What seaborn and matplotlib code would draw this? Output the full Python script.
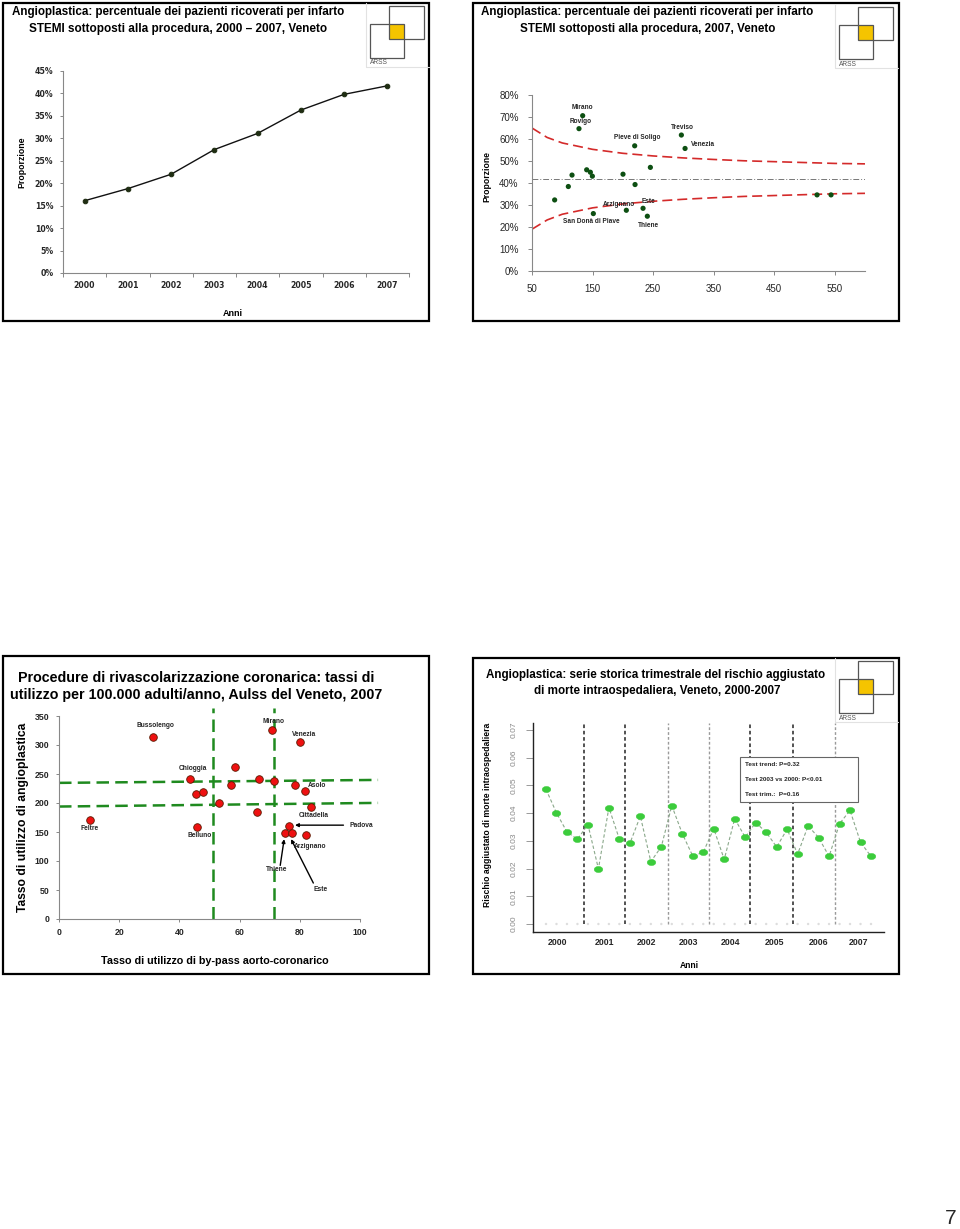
import matplotlib
matplotlib.use("Agg")
import numpy as np
import pandas as pd
import matplotlib.pyplot as plt
import seaborn as sns
from matplotlib.patches import Rectangle
from matplotlib.path import Path
from matplotlib.lines import Line2D
from matplotlib.ticker import FuncFormatter
from matplotlib import font_manager

sns.set_theme(style="ticks")
plt.rcParams['font.family'] = ['Liberation Sans', 'DejaVu Sans']
plt.rcParams['figure.facecolor'] = 'white'

# ------------------------------------------------------------------ data
years = [2000, 2001, 2002, 2003, 2004, 2005, 2006, 2007]
ptca_share = [0.161, 0.188, 0.220, 0.275, 0.311, 0.363, 0.398, 0.417]

hosp_n = [133.7, 127.6, 219.6, 296.7, 302.8, 245.5, 200.3, 220.2, 140.3, 146.4,
          149.7, 116.1, 110.0, 87.4, 151.3, 205.8, 233.4, 240.5, 520.8, 543.9]
hosp_prop = [0.706, 0.647, 0.569, 0.618, 0.557, 0.471, 0.440, 0.393, 0.460, 0.449,
             0.431, 0.436, 0.384, 0.323, 0.261, 0.276, 0.285, 0.249, 0.346, 0.346]
hosp_name = ["Mirano", "Rovigo", "Pieve di Soligo", "Treviso", "Venezia", "", "", "", "", "",
             "", "", "", "", "San Donà di Piave", "Arzignano", "Este", "Thiene", "", ""]
funnel_n = [50, 75, 100, 150, 200, 250, 300, 350, 400, 450, 500, 550, 600]
funnel_upper = [0.650, 0.607, 0.582, 0.553, 0.535, 0.523, 0.514, 0.507, 0.501, 0.497, 0.493, 0.489, 0.487]
funnel_lower = [0.190, 0.232, 0.258, 0.287, 0.305, 0.317, 0.326, 0.333, 0.339, 0.343, 0.347, 0.351, 0.353]
regional_mean = 0.42

ulss_cabg = [10.4, 31.3, 43.4, 45.6, 47.7, 46.0, 53.0, 57.2, 58.4, 65.9, 66.6,
             70.8, 71.3, 80.0, 78.4, 81.6, 83.6, 76.4, 75.1, 77.4, 81.9]
ulss_ptca = [171.5, 313.8, 241.0, 215.0, 218.6, 158.3, 199.7, 230.6, 261.6, 185.3, 242.1,
             325.3, 238.1, 305.8, 231.2, 220.9, 193.9, 160.6, 148.0, 148.6, 144.0]
ulss_name = ["Feltre", "Bussolengo", "Chioggia", "", "", "Belluno", "", "", "", "", "",
             "Mirano", "", "Venezia", "", "Asolo", "Cittadella", "Padova", "Thiene", "Este", "Arzignano"]
ref_cabg = [51.1, 71.3]
ref_ptca_low = [193.9, 200.2]
ref_ptca_high = [234.7, 239.8]

quarter_risk = [0.0486, 0.0401, 0.0332, 0.0306,
                0.0359, 0.0199, 0.0420, 0.0306,
                0.0291, 0.0389, 0.0225, 0.0279,
                0.0427, 0.0326, 0.0245, 0.0259,
                0.0344, 0.0233, 0.0380, 0.0313,
                0.0366, 0.0331, 0.0278, 0.0342,
                0.0252, 0.0354, 0.0312, 0.0244,
                0.0362, 0.0410, 0.0295, 0.0244]
test_lines = ["Test trend: P=0.32", "Test 2003 vs 2000: P<0.01", "Test trim.:  P=0.16"]

titles = {
    1: ["Angioplastica: percentuale dei pazienti ricoverati per infarto",
        "STEMI sottoposti alla procedura, 2000 \u2013 2007, Veneto"],
    2: ["Angioplastica: percentuale dei pazienti ricoverati per infarto",
        "STEMI sottoposti alla procedura, 2007, Veneto"],
    3: ["Procedure di rivascolarizzazione coronarica: tassi di",
        "utilizzo per 100.000 adulti/anno, Aulss del Veneto, 2007"],
    4: ["Angioplastica: serie storica trimestrale del rischio aggiustato",
        "di morte intraospedaliera, Veneto, 2000-2007"],
}

# ------------------------------------------------------------------ helpers
W, H = 960, 1229
fig = plt.figure(figsize=(W / 100, H / 100), dpi=100)
renderer = fig.canvas.get_renderer()
names = {f.name for f in font_manager.fontManager.ttflist}
NARROW = ['Liberation Sans Narrow', 'Liberation Sans'] if 'Liberation Sans Narrow' in names else ['Liberation Sans']


def ax_at(x0, y0, x1, y1):
    return fig.add_axes([x0 / W, 1 - y1 / H, (x1 - x0) / W, (y1 - y0) / H])


def fit_text(x, y, s, width_px, ha='center', family=None, weight='bold',
             rotation=0, color='black', size0=10):
    t = fig.text(x / W, 1 - y / H, s, ha=ha, va='center', family=family or ['Liberation Sans'],
                 weight=weight, fontsize=size0, rotation=rotation, color=color)
    bb = t.get_window_extent(renderer)
    w = bb.width if rotation == 0 else bb.height
    t.set_fontsize(size0 * width_px / w)
    return t


def rect_px(x0, y0, x1, y1, **kw):
    r = Rectangle((x0 / W, 1 - y1 / H), (x1 - x0) / W, (y1 - y0) / H,
                  transform=fig.transFigure, **kw)
    fig.add_artist(r)


def line_px(xs, ys, **kw):
    fig.add_artist(Line2D([x / W for x in xs], [1 - y / H for y in ys],
                          transform=fig.transFigure, **kw))


def logo(x0, y0):
    # x0,y0 = top-left of the lower-left square
    line_px([x0 - 4, x0 - 4], [y0 - 21, y0 + 43], color='#e2e2e2', lw=0.8)
    line_px([x0 - 4, x0 + 59], [y0 + 43, y0 + 43], color='#e2e2e2', lw=0.8)
    rect_px(x0 + 20, y0 + 0, x0 + 34, y0 + 15, facecolor='#f5c400', edgecolor='none')
    rect_px(x0 + 19, y0 - 18, x0 + 54, y0 + 15, facecolor='none', edgecolor='#555555', lw=0.9)
    rect_px(x0, y0, x0 + 34, y0 + 34, facecolor='none', edgecolor='#555555', lw=0.9)
    fit_text(x0, y0 + 39, "ARSS", 18, ha='left', weight='normal', color='#555555')


def style_spines(ax, color='#888888', lw=0.8):
    sns.despine(ax=ax)
    for s in ('left', 'bottom'):
        ax.spines[s].set_color(color)
        ax.spines[s].set_linewidth(lw)


pct = FuncFormatter(lambda v, _: f"{v * 100:.0f}%")

# ------------------------------------------------------------------ panel borders
for (x0, y0, x1, y1) in [(3, 3, 429, 321), (473, 3, 899, 321), (3, 656, 429, 974), (473, 658, 899, 974)]:
    rect_px(x0, y0, x1, y1, facecolor='none', edgecolor='black', lw=1.6)

# ------------------------------------------------------------------ panel 1
ax1 = ax_at(63, 71, 409, 273)
df1 = pd.DataFrame({'pos': np.arange(len(years)), 'share': ptca_share})
sns.lineplot(data=df1, x='pos', y='share', ax=ax1, color='#111111', lw=1.0,
             marker='o', markersize=3.3, markerfacecolor='#1f2d12', markeredgecolor='#1f2d12')
ax1.set_xlim(-0.5, 7.5)
ax1.set_ylim(0, 0.45)
ax1.set_xticks(range(len(years)))
ax1.set_xticklabels([str(y) for y in years])
ax1.set_xticks(np.arange(-0.5, len(years), 1), minor=True)
ax1.tick_params(axis='x', which='major', length=0, pad=6)
ax1.tick_params(axis='x', which='minor', length=3, color='#888888', width=0.7)
ax1.set_yticks(np.arange(0, 0.451, 0.05))
ax1.yaxis.set_major_formatter(pct)
ax1.tick_params(axis='y', length=2.5, color='#888888', width=0.7, pad=4.5)
for lab in ax1.get_xticklabels() + ax1.get_yticklabels():
    lab.set_family('DejaVu Sans'); lab.set_weight('bold'); lab.set_fontsize(5.6)
ax1.set_xlabel(''); ax1.set_ylabel('')
style_spines(ax1)
fit_text(178, 12, titles[1][0], 333, family=NARROW)
fit_text(178, 29, titles[1][1], 295, family=NARROW)
fit_text(22, 162, "Proporzione", 51, rotation=90)
fit_text(233, 313, "Anni", 20)
logo(370, 24)

# ------------------------------------------------------------------ panel 2
ax2 = ax_at(532, 95, 865, 271)
dff = pd.DataFrame({'n': funnel_n, 'upper': funnel_upper, 'lower': funnel_lower})
for col in ('upper', 'lower'):
    sns.lineplot(data=dff, x='n', y=col, ax=ax2, color='#d42a2a', lw=1.2, linestyle=(0, (6, 3)))
ax2.axhline(regional_mean, color='#777777', lw=0.7, linestyle=(0, (6, 2, 1, 2)))
df2 = pd.DataFrame({'n': hosp_n, 'p': hosp_prop, 'name': hosp_name})
sns.scatterplot(data=df2, x='n', y='p', ax=ax2, color='#0d4f12', s=14, edgecolor='none', zorder=3)
labels2 = {"Mirano": (134, 0.742), "Rovigo": (131, 0.680), "Pieve di Soligo": (223.5, 0.606),
           "Treviso": (298, 0.651), "Venezia": (332, 0.574), "Arzignano": (193, 0.302),
           "Este": (243, 0.316), "San Donà di Piave": (148.5, 0.226), "Thiene": (243, 0.205)}
for nm in df2['name']:
    if nm:
        lx, ly = labels2[nm]
        ax2.text(lx, ly, nm, ha='center', va='center', fontsize=4.7, weight='bold', family=NARROW)
ax2.set_xlim(50, 600)
ax2.set_ylim(0, 0.8)
ax2.set_xticks(range(50, 551, 100))
ax2.set_yticks(np.arange(0, 0.801, 0.1))
ax2.yaxis.set_major_formatter(pct)
ax2.tick_params(axis='both', length=3, color='#888888', width=0.7, labelsize=7)
ax2.tick_params(axis='y', pad=6.5)
ax2.tick_params(axis='x', pad=6)
ax2.set_xlabel(''); ax2.set_ylabel('')
style_spines(ax2)
fit_text(647, 12, titles[2][0], 333, family=NARROW)
fit_text(648, 29, titles[2][1], 255, family=NARROW)
fit_text(487, 177, "Proporzione", 50, rotation=90)
logo(839, 25)

# ------------------------------------------------------------------ panel 3
ax3 = ax_at(59, 716, 360, 919)
dash_g = dict(color='#1f8a1f', lw=1.8, linestyle=(0, (5, 2.5)), clip_on=False, zorder=2)
for xv in ref_cabg:
    ax3.plot([xv, xv], [0, 363], **dash_g)
ax3.plot([0, 106], ref_ptca_low, **dash_g)
ax3.plot([0, 106], ref_ptca_high, **dash_g)
df3 = pd.DataFrame({'cabg': ulss_cabg, 'ptca': ulss_ptca, 'name': ulss_name})
sns.scatterplot(data=df3, x='cabg', y='ptca', ax=ax3, color='#ee1111', s=30,
                edgecolor='#5a1a00', linewidth=0.6, zorder=3, clip_on=False)
labels3 = {"Bussolengo": (32.2, 334), "Mirano": (71.2, 340), "Venezia": (81.4, 318),
           "Chioggia": (44.5, 259), "Asolo": (85.8, 230.6), "Cittadella": (84.7, 177.8),
           "Padova": (100.3, 160.6), "Feltre": (10, 155.5), "Belluno": (46.7, 143.4),
           "Arzignano": (83.4, 125), "Thiene": (72.3, 85.5), "Este": (87, 50.5)}
arrows3 = {"Padova": ((94.5, 161.8), (78.4, 161.8)),
           "Thiene": ((73.5, 92.4), (74.8, 137.7)),
           "Este": ((84.5, 62), (77.1, 137.7))}
for nm in df3['name']:
    if nm:
        lx, ly = labels3[nm]
        ax3.text(lx, ly, nm, ha='center', va='center', fontsize=4.8, weight='bold',
                 family=NARROW, zorder=4, clip_on=False)
for nm, (src, dst) in arrows3.items():
    ax3.annotate('', xy=dst, xytext=src, annotation_clip=False,
                 arrowprops=dict(arrowstyle='-|>', color='black', lw=1.0,
                                 mutation_scale=5, shrinkA=0, shrinkB=0))
ax3.set_xlim(0, 100)
ax3.set_ylim(0, 350)
ax3.set_xticks(range(0, 101, 20))
ax3.set_yticks(range(0, 351, 50))
ax3.tick_params(axis='both', length=2.5, color='#888888', width=0.7, labelsize=6.3)
ax3.tick_params(axis='x', pad=4)
ax3.tick_params(axis='y', pad=4.5)
for lab in ax3.get_xticklabels() + ax3.get_yticklabels():
    lab.set_weight('bold')
ax3.set_xlabel(''); ax3.set_ylabel('')
style_spines(ax3)
fit_text(196, 678, titles[3][0], 354)
fit_text(196, 695, titles[3][1], 371)
fit_text(215, 961, "Tasso di utilizzo di by-pass aorto-coronarico", 226)
fit_text(23, 817, "Tasso di utilizzo di angioplastica", 187, rotation=90)

# ------------------------------------------------------------------ panel 4
ax4 = ax_at(533, 723, 884, 932)
q = np.arange(len(quarter_risk))
df4 = pd.DataFrame({'q': q, 'risk': quarter_risk})
year_sep = [3.58, 7.57, 11.6, 15.5, 19.5, 23.6, 27.6]
sep_dark = [True, True, False, False, True, True, False]
for xv, dk in zip(year_sep, sep_dark):
    ax4.plot([xv, xv], [0, 0.0725], color='#444444' if dk else '#9a9a9a',
             lw=1.3 if dk else 1.0, linestyle=(0, (2, 1.5)), zorder=1)
sns.scatterplot(x=q, y=np.zeros_like(q, dtype=float), ax=ax4, color='#dddddd', s=3,
                edgecolor='none', zorder=1)
tt = np.linspace(0, 2 * np.pi, 41)
ell = Path(np.column_stack([np.cos(tt), 0.72 * np.sin(tt)]))
sns.lineplot(data=df4, x='q', y='risk', ax=ax4, color='#8aa88a', lw=0.8, linestyle=(0, (3, 2)),
             marker=ell, markersize=6.2, markerfacecolor='#3ccc3c', markeredgecolor='#3ccc3c',
             markeredgewidth=0.3, zorder=3)
ax4.add_patch(Rectangle((18.5, 0.0440), 11.3, 0.0163, facecolor='white',
                        edgecolor='#666666', lw=0.8, zorder=4))
for i, s in enumerate(test_lines):
    ax4.text(19.0, 0.0574 - i * 0.0054, s, ha='left', va='center', fontsize=4.6,
             weight='bold', family=NARROW, zorder=5)
ax4.set_xlim(-1.24, 32.24)
ax4.set_ylim(-0.00289, 0.07253)
ax4.set_xticks([1.12, 5.59, 9.58, 13.58, 17.57, 21.8, 26.0, 29.8])
ax4.set_xticklabels([str(y) for y in years])
ax4.tick_params(axis='x', length=0, pad=4, labelsize=6.3)
for lab in ax4.get_xticklabels():
    lab.set_weight('bold')
ax4.set_yticks(np.arange(0, 0.0701, 0.01))
ax4.yaxis.set_major_formatter(FuncFormatter(lambda v, _: f"{v:.2f}"))
ax4.tick_params(axis='y', length=5, color='#999999', width=0.7, pad=6, labelsize=6,
                labelcolor='#888888')
for lab in ax4.get_yticklabels():
    lab.set_rotation(90); lab.set_va('center'); lab.set_family(NARROW)
ax4.set_xlabel(''); ax4.set_ylabel('')
sns.despine(ax=ax4)
for s in ('left', 'bottom'):
    ax4.spines[s].set_color('#222222'); ax4.spines[s].set_linewidth(1.0)
fit_text(656, 675, titles[4][0], 338, family=NARROW)
fit_text(657, 691, titles[4][1], 247, family=NARROW)
fit_text(488, 815, "Rischio aggiustato di morte intraospedaliera", 184, rotation=90, family=NARROW)
fit_text(689, 965, "Anni", 19)
logo(839, 679)

# ------------------------------------------------------------------ page number
fig.text(951 / W, 1 - 1218 / H, "7", ha='center', va='center', fontsize=15, family='Liberation Sans')

fig.savefig('out.png', dpi=100)
